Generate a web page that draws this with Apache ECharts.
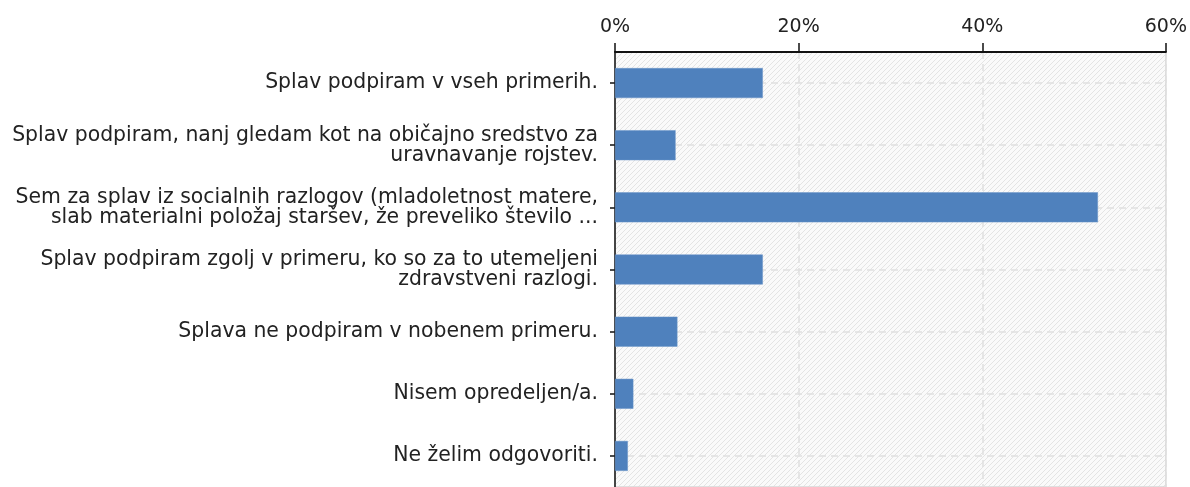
<!DOCTYPE html>
<html>
<head>
<meta charset="utf-8">
<script src="https://cdn.jsdelivr.net/npm/echarts@6/dist/echarts.min.js"></script>
<style>
html,body{margin:0;padding:0;background:#fff;}
#chart{width:1190px;height:487px;}
</style>
</head>
<body>
<div id="chart"></div>
<script>
const categories = [
  "Splav podpiram v vseh primerih.",
  "Splav podpiram, nanj gledam kot na običajno sredstvo za\nuravnavanje rojstev.",
  "Sem za splav iz socialnih razlogov (mladoletnost matere,\nslab materialni položaj staršev, že preveliko število ...",
  "Splav podpiram zgolj v primeru, ko so za to utemeljeni\nzdravstveni razlogi.",
  "Splava ne podpiram v nobenem primeru.",
  "Nisem opredeljen/a.",
  "Ne želim odgovoriti."
];
const values = [16.1, 6.6, 52.6, 16.1, 6.8, 2.0, 1.4];
const xTicks = [0, 20, 40, 60];

// hatch pattern
const pc = document.createElement('canvas');
const S = 5;
pc.width = S; pc.height = S;
const g = pc.getContext('2d');
g.fillStyle = '#fafafa';
g.fillRect(0, 0, S, S);
g.strokeStyle = '#e4e4e4';
g.lineWidth = 1;
g.beginPath();
g.moveTo(-1, S + 1); g.lineTo(S + 1, -1);
g.moveTo(-1, 1); g.lineTo(1, -1);
g.moveTo(S - 1, S + 1); g.lineTo(S + 1, S - 1);
g.stroke();

const chart = echarts.init(document.getElementById('chart'), null, {renderer: 'canvas'});
chart.setOption({
  animation: false,
  grid: {
    left: 615, right: 21, top: 52, height: 437,
    show: true,
    backgroundColor: {image: pc, repeat: 'repeat'},
    borderColor: '#d8d8d8', borderWidth: 1.5
  },
  xAxis: {
    type: 'value', position: 'top',
    min: xTicks[0], max: xTicks[xTicks.length - 1], interval: 20,
    axisLine: {show: true, lineStyle: {color: '#111', width: 2}},
    axisTick: {show: true, length: 9, lineStyle: {color: '#111', width: 1.5}},
    axisLabel: {formatter: '{value}%', fontFamily: 'DejaVu Sans', fontSize: 19, color: '#222', margin: 15},
    splitLine: {show: true, lineStyle: {color: '#e0e0e0', type: [7, 5], width: 1.5}}
  },
  yAxis: {
    type: 'category', inverse: true, data: categories,
    axisLine: {show: true, lineStyle: {color: '#111', width: 1.5}},
    axisTick: {show: true, alignWithLabel: true, length: 5, lineStyle: {color: '#111', width: 1.5}},
    axisLabel: {fontFamily: 'DejaVu Sans', fontSize: 20.4, color: '#222', margin: 17, lineHeight: 20, align: 'right'},
    splitLine: {show: true, alignWithLabel: true, lineStyle: {color: '#e0e0e0', type: [7, 5], width: 1.5}}
  },
  series: [{
    type: 'bar', data: values, barWidth: 30,
    itemStyle: {color: '#4f81bd', borderColor: '#6b95c8', borderWidth: 0.5}
  }]
});
</script>
</body>
</html>
